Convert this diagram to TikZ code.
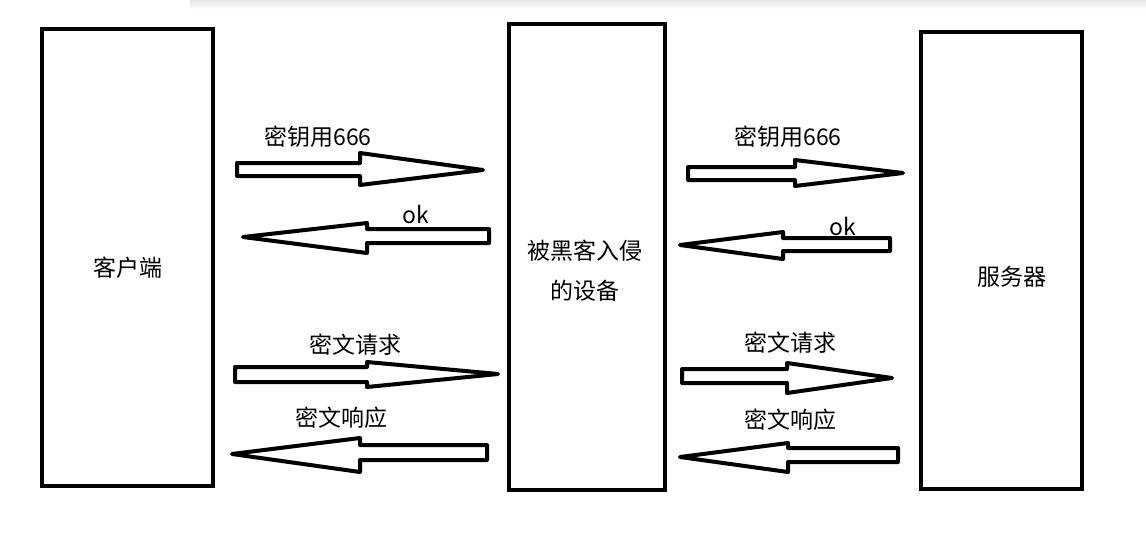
\documentclass[tikz,border=0pt]{standalone}
\usepackage{fontspec}
\newfontfamily\cjk{Noto Sans CJK SC}
\begin{document}
\begin{tikzpicture}[x=1pt,y=-1pt,
  box/.style={draw=black,line width=4pt,fill=white},
  blk/.style={draw=black,line width=4pt,line join=round,fill=white},
  lbl/.style={font=\cjk\fontsize{23}{28}\selectfont,inner sep=0pt},
  okl/.style={font=\cjk\fontsize{23}{28}\selectfont,inner sep=0pt}]
\useasboundingbox (0,0) rectangle (1146,544);
\shade[top color=black!10,bottom color=white] (190,0) rectangle (1146,9);
% boxes
\node[box,minimum width=171pt,minimum height=457pt,anchor=north west] (client) at (40,27) {};
\node[box,minimum width=156pt,minimum height=466pt,anchor=north west] (mid) at (507,22) {};
\node[box,minimum width=161pt,minimum height=457pt,anchor=north west] (server) at (919,30) {};
\node[lbl] (tclient) at (128,268) {客户端};
\node[lbl,align=center,font=\cjk\fontsize{23}{40}\selectfont] (tmid) at (585,271) {被黑客入侵\\的设备};
\node[lbl] (tserver) at (1012,277) {服务器};
% left arrows
\draw[blk] (237,163) -- (360,163) -- (360,153) -- (483,170) -- (360,185) -- (360,176) -- (237,176) -- cycle;
\node[lbl] (l1) at (318,137) {密钥用666};
\draw[blk] (489,229) -- (367,229) -- (367,223) -- (243,237) -- (367,253) -- (367,243) -- (489,243) -- cycle;
\node[okl] (l2) at (416,214) {ok};
\draw[blk] (235,367) -- (367,367) -- (367,362) -- (498,374) -- (367,387) -- (367,382) -- (235,382) -- cycle;
\node[lbl] (l3) at (355,345) {密文请求};
\draw[blk] (487,445) -- (360,445) -- (360,438) -- (232,454) -- (360,472) -- (360,460) -- (487,460) -- cycle;
\node[lbl] (l4) at (341,418) {密文响应};
% right arrows
\draw[blk] (688,167) -- (795,167) -- (795,160) -- (903,173) -- (795,186) -- (795,180) -- (688,180) -- cycle;
\node[lbl] (r1) at (788,137) {密钥用666};
\draw[blk] (890,238) -- (783,238) -- (783,232) -- (680,245) -- (783,259) -- (783,251) -- (890,251) -- cycle;
\node[okl] (r2) at (843,226) {ok};
\draw[blk] (682,369) -- (787,369) -- (787,363) -- (892,378) -- (787,393) -- (787,383) -- (682,383) -- cycle;
\node[lbl] (r3) at (790,343) {密文请求};
\draw[blk] (898,448) -- (788,448) -- (788,443) -- (680,457) -- (788,472) -- (788,462) -- (898,462) -- cycle;
\node[lbl] (r4) at (790,420) {密文响应};
\end{tikzpicture}
\end{document}
